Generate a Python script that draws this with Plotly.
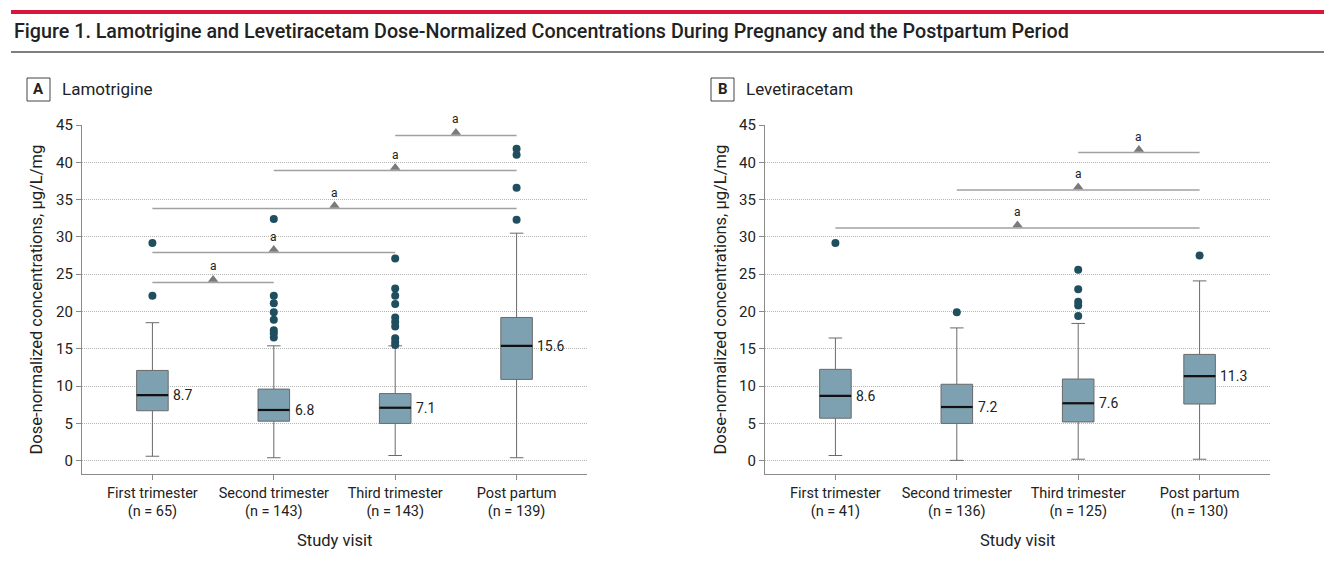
import plotly.graph_objects as go

W, H = 1332, 562
OFF = 8  # page body margin in the browser

# study visits and sample sizes
visits = ["First trimester", "Second trimester", "Third trimester", "Post partum"]
lam_n = [65, 143, 143, 139]
lev_n = [41, 136, 125, 130]

# A - lamotrigine, dose-normalized concentration (ug/L/mg)
lam_low = [0.6, 0.4, 0.7, 0.4]
lam_q1 = [6.7, 5.3, 5.0, 10.9]
lam_med = [8.8, 6.8, 7.1, 15.4]
lam_q3 = [12.1, 9.6, 9.0, 19.2]
lam_high = [18.5, 15.4, 15.4, 30.5]
lam_med_lbl = ["8.7", "6.8", "7.1", "15.6"]
lam_out = [[29.2, 22.1],
           [32.4, 22.1, 21.1, 19.9, 18.9, 17.5, 17.1, 16.5],
           [27.1, 23.1, 22.1, 21.0, 19.2, 18.6, 18.0, 16.4, 15.9, 15.5],
           [41.8, 41.0, 36.6, 32.3]]
lam_sig_from = [2, 1, 0, 0, 0]
lam_sig_to = [3, 3, 3, 2, 1]
lam_sig_y = [43.6, 38.9, 33.8, 27.9, 23.9]

# B - levetiracetam
lev_low = [0.7, 0.05, 0.2, 0.2]
lev_q1 = [5.7, 5.0, 5.2, 7.6]
lev_med = [8.7, 7.2, 7.7, 11.35]
lev_q3 = [12.25, 10.25, 10.95, 14.25]
lev_high = [16.45, 17.8, 18.4, 24.1]
lev_med_lbl = ["8.6", "7.2", "7.6", "11.3"]
lev_out = [[29.2], [19.9], [25.6, 23.0, 21.3, 20.8, 19.4], [27.5]]
lev_sig_from = [2, 1, 0]
lev_sig_to = [3, 3, 3]
lev_sig_y = [41.3, 36.3, 31.2]

FONT = "Roboto"
BOX_W = 0.26
TXT = "#222222"
AXC = "#8a8a8a"
FW, FH = W - OFF, H - OFF


def px(x):
    return (x - OFF) / FW


def py(y):
    return 1 - (y - OFF) / FH


fig = go.Figure()


def panel(xa, ya, low, q1, med, q3, high, med_lbl, outs, sfrom, sto, sy):
    pos = list(range(len(visits)))
    fig.add_trace(go.Box(
        x=pos, q1=q1, median=med, q3=q3, lowerfence=low, upperfence=high,
        width=BOX_W, whiskerwidth=0.43, boxpoints=False,
        fillcolor="#7DA1B1", line=dict(color="#6a6a6a", width=1),
        xaxis=xa, yaxis=ya, showlegend=False, hoverinfo="skip"))
    # black median bars
    mx, my = [], []
    for i, m in zip(pos, med):
        mx += [i - BOX_W / 2, i + BOX_W / 2, None]
        my += [m, m, None]
    fig.add_trace(go.Scatter(x=mx, y=my, mode="lines",
                             line=dict(color="#111111", width=2.2),
                             xaxis=xa, yaxis=ya, showlegend=False, hoverinfo="skip"))
    # median values
    for i, m, t in zip(pos, med, med_lbl):
        fig.add_annotation(x=i + BOX_W / 2, y=m, xref=xa, yref=ya, text=t,
                           xanchor="left", yanchor="middle", xshift=3, showarrow=False,
                           font=dict(family=FONT, size=14, color=TXT))
    # outliers
    ox, oy = [], []
    for i, vals in zip(pos, outs):
        ox += [i] * len(vals)
        oy += vals
    fig.add_trace(go.Scatter(x=ox, y=oy, mode="markers",
                             marker=dict(color="#1F4E5E", size=8),
                             xaxis=xa, yaxis=ya, showlegend=False, hoverinfo="skip"))
    # significance brackets
    bx, by, tx, ty = [], [], [], []
    for a, b, h in zip(sfrom, sto, sy):
        bx += [a, b, None]
        by += [h, h, None]
        tx.append((a + b) / 2)
        ty.append(h + 0.4)
    fig.add_trace(go.Scatter(x=bx, y=by, mode="lines",
                             line=dict(color="#a0a0a0", width=1.5),
                             xaxis=xa, yaxis=ya, showlegend=False, hoverinfo="skip"))
    fig.add_trace(go.Scatter(x=tx, y=ty, mode="markers",
                             marker=dict(symbol="triangle-up", size=9, color="#7a7a7a"),
                             xaxis=xa, yaxis=ya, showlegend=False, hoverinfo="skip"))
    for x, y in zip(tx, sy):
        fig.add_annotation(x=x, y=y, xref=xa, yref=ya, text="a", showarrow=False,
                           yanchor="middle", yshift=16,
                           font=dict(family=FONT, size=12, color=TXT))


panel("x", "y", lam_low, lam_q1, lam_med, lam_q3, lam_high, lam_med_lbl,
      lam_out, lam_sig_from, lam_sig_to, lam_sig_y)
panel("x2", "y2", lev_low, lev_q1, lev_med, lev_q3, lev_high, lev_med_lbl,
      lev_out, lev_sig_from, lev_sig_to, lev_sig_y)


def xaxis_style(dom, n):
    return dict(domain=dom, range=[-0.58, 3.58], tickvals=list(range(len(visits))),
                ticktext=[f"{v}<br>(n = {k})" for v, k in zip(visits, n)],
                ticks="outside", ticklen=5, tickcolor=AXC, showline=True,
                linecolor=AXC, linewidth=1.2, showgrid=False, zeroline=False,
                tickfont=dict(family=FONT, size=14.5, color=TXT), automargin=False)


def yaxis_style(anchor):
    return dict(domain=[py(474), py(125)], range=[-1.78, 45], anchor=anchor,
                tickvals=list(range(0, 46, 5)), ticks="outside", ticklen=5,
                tickcolor=AXC, showline=True, linecolor=AXC, linewidth=1.2,
                showgrid=True, gridcolor="#b4b4b4", griddash="1px,1px", gridwidth=1,
                zeroline=False, tickfont=dict(family=FONT, size=15, color=TXT),
                automargin=False)


fig.update_layout(
    width=FW, height=FH, margin=dict(l=0, r=0, t=0, b=0),
    paper_bgcolor="white", plot_bgcolor="white", showlegend=False,
    xaxis=dict(xaxis_style([px(82), px(587)], lam_n), anchor="y"),
    yaxis=yaxis_style("x"),
    xaxis2=dict(xaxis_style([px(765), px(1270)], lev_n), anchor="y2"),
    yaxis2=yaxis_style("x2"),
)

# header rules and title
fig.add_shape(type="line", xref="paper", yref="paper", x0=px(11), x1=px(1326),
              y0=py(12), y1=py(12), line=dict(color="#D8173A", width=4))
fig.add_shape(type="line", xref="paper", yref="paper", x0=px(11), x1=px(1326),
              y0=py(52), y1=py(52), line=dict(color="#555555", width=1.5))
fig.add_annotation(x=px(12), y=py(32), xref="paper", yref="paper", xanchor="left",
                   yanchor="middle", showarrow=False,
                   text="Figure 1. Lamotrigine and Levetiracetam Dose-Normalized "
                        "Concentrations During Pregnancy and the Postpartum Period",
                   font=dict(family=FONT, size=19.7, color=TXT, weight=500))

# panel labels and axis titles
for letter, name, bx0, ytx, xmid in [("A", "Lamotrigine", 27, 36, 334.5),
                                     ("B", "Levetiracetam", 711, 720, 1017.5)]:
    fig.add_shape(type="rect", xref="paper", yref="paper", x0=px(bx0), x1=px(bx0 + 23),
                  y0=py(101), y1=py(78), line=dict(color="#444444", width=1))
    fig.add_annotation(x=px(bx0 + 11.5), y=py(89.5), xref="paper", yref="paper",
                       xanchor="center", yanchor="middle", showarrow=False,
                       text=f"<b>{letter}</b>",
                       font=dict(family=FONT, size=15, color=TXT))
    fig.add_annotation(x=px(bx0 + 33), y=py(89.5), xref="paper", yref="paper",
                       xanchor="left", yanchor="middle", showarrow=False, text=name,
                       font=dict(family=FONT, size=17, color=TXT))
    fig.add_annotation(x=px(ytx), y=py(299.5), xref="paper", yref="paper",
                       xanchor="center", yanchor="middle", textangle=-90,
                       showarrow=False, text="Dose-normalized concentrations, µg/L/mg",
                       font=dict(family=FONT, size=16.5, color=TXT))
    fig.add_annotation(x=px(xmid), y=py(540), xref="paper", yref="paper",
                       xanchor="center", yanchor="middle", showarrow=False,
                       text="Study visit",
                       font=dict(family=FONT, size=16.5, color=TXT))

fig.write_html("out.html")
